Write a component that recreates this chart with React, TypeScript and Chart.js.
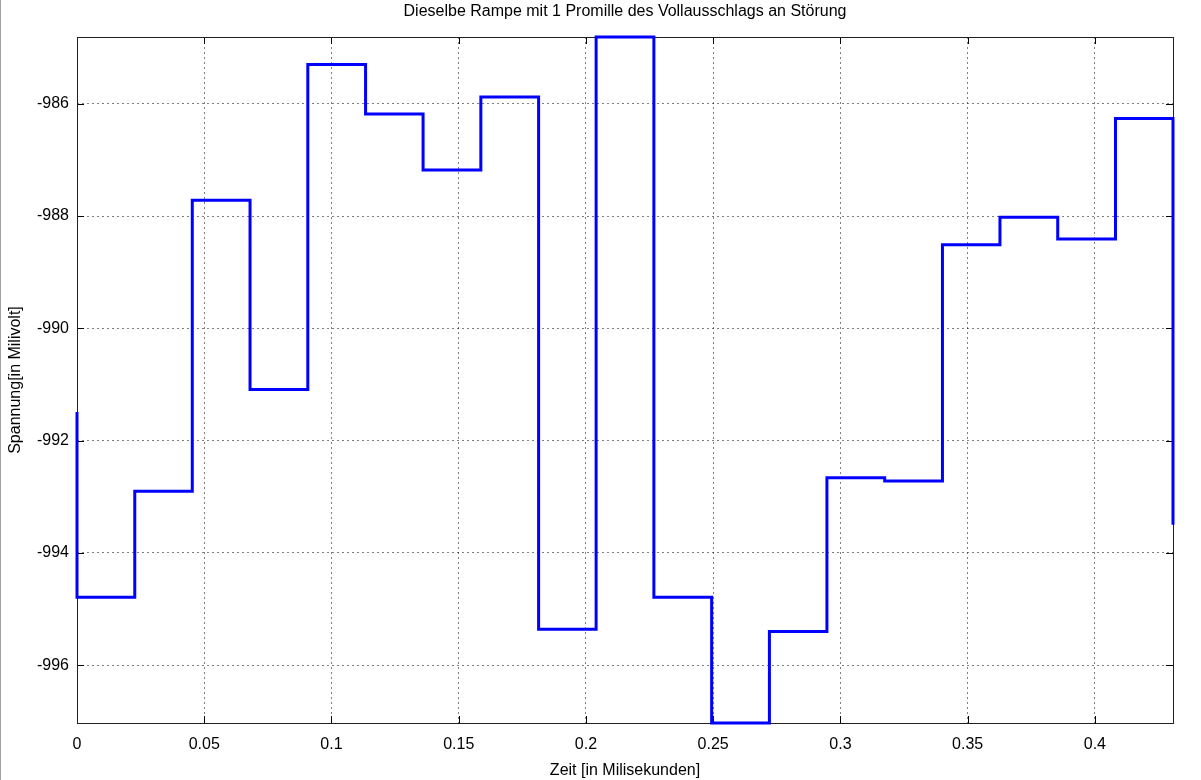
import React, { useEffect, useRef } from 'react';
import { Chart, registerables } from 'chart.js';

Chart.register(...registerables);

const chartTitle = 'Dieselbe Rampe mit 1 Promille des Vollausschlags an Störung';
const xAxisLabel = 'Zeit [in Milisekunden]';
const yAxisLabel = 'Spannung[in Milivolt]';

// step start times (first point is the initial value at t=0, last point the final drop)
const stepTimes = [
  0, 0, 0.0227, 0.0453, 0.068, 0.0907, 0.1134, 0.136, 0.1587, 0.1814, 0.204,
  0.2267, 0.2494, 0.2721, 0.2947, 0.3174, 0.3401, 0.3627, 0.3854, 0.4081, 0.4307,
];
const stepValues = [
  -991.49, -994.79, -992.9, -987.72, -991.09, -985.3, -986.18, -987.18, -985.88, -995.36,
  -984.81, -994.79, -997.03, -995.4, -992.66, -992.72, -988.51, -988.02, -988.41, -986.26,
  -993.5,
];

const xTickValues = [0, 0.05, 0.1, 0.15, 0.2, 0.25, 0.3, 0.35, 0.4];
const yTickValues = [-996, -994, -992, -990, -988, -986];
const xMin = 0;
const xMax = 0.4307;
const yMin = -997.03;
const yMax = -984.81;

const FONT = '"Liberation Sans", Arial, Helvetica, sans-serif';
const FONT_SIZE = 16;

const framePlugin = {
  id: 'frame',
  beforeDatasetsDraw(chart: any) {
    const { ctx, chartArea } = chart;
    const { left, right, top, bottom } = chartArea;
    const xs = chart.scales.x;
    const ys = chart.scales.y;
    ctx.save();
    ctx.strokeStyle = '#000000';
    ctx.lineWidth = 1;
    ctx.setLineDash([]);
    const tl = 7;
    ctx.beginPath();
    xTickValues.forEach((v) => {
      const px = Math.round(xs.getPixelForValue(v)) + 0.5;
      ctx.moveTo(px, bottom);
      ctx.lineTo(px, bottom - tl);
      ctx.moveTo(px, top);
      ctx.lineTo(px, top + tl);
    });
    yTickValues.forEach((v) => {
      const py = Math.round(ys.getPixelForValue(v)) + 0.5;
      ctx.moveTo(left, py);
      ctx.lineTo(left + tl, py);
      ctx.moveTo(right, py);
      ctx.lineTo(right - tl, py);
    });
    ctx.stroke();
    ctx.strokeStyle = '#222222';
    ctx.strokeRect(Math.round(left) + 0.5, Math.round(top) + 0.5, Math.round(right - left), Math.round(bottom - top));
    ctx.restore();
  },
  afterDraw(chart: any) {
    const { ctx, chartArea } = chart;
    ctx.save();
    ctx.fillStyle = '#000000';
    ctx.font = `${FONT_SIZE}px ${FONT}`;
    ctx.textAlign = 'center';
    ctx.textBaseline = 'middle';
    ctx.fillText(chartTitle, (chartArea.left + chartArea.right) / 2, 12);
    ctx.restore();
  },
};

export default function App() {
  const canvasRef = useRef<HTMLCanvasElement | null>(null);

  useEffect(() => {
    document.body.style.margin = '0';
    const canvas = canvasRef.current;
    if (!canvas) return;
    const data = stepTimes.map((t, i) => ({ x: t, y: stepValues[i] }));
    const chart = new Chart(canvas, {
      type: 'line',
      data: {
        datasets: [
          {
            data,
            borderColor: '#0000ff',
            backgroundColor: '#0000ff',
            borderWidth: 3,
            pointRadius: 0,
            stepped: 'before',
            fill: false,
            clip: false as any,
          },
        ],
      },
      options: {
        animation: false,
        responsive: false,
        devicePixelRatio: 1,
        layout: { padding: { left: 0, right: 28, top: 37, bottom: 0 } },
        plugins: {
          legend: { display: false },
          tooltip: { enabled: false },
          title: { display: false },
        },
        scales: {
          x: {
            type: 'linear',
            min: xMin,
            max: xMax,
            afterFit: (s: any) => {
              s.height = 57;
            },
            afterBuildTicks: (s: any) => {
              s.ticks = xTickValues.map((v) => ({ value: v }));
            },
            ticks: {
              color: '#000000',
              font: { family: FONT, size: FONT_SIZE },
              padding: 12,
              maxRotation: 0,
              autoSkip: false,
              callback: (v: any) => String(Number(Number(v).toFixed(3))),
            },
            grid: {
              color: 'rgba(0,0,0,0.5)',
              lineWidth: 1,
              drawTicks: false,
            },
            border: { display: false, dash: [2, 3] },
            title: {
              display: true,
              text: xAxisLabel,
              color: '#000000',
              font: { family: FONT, size: FONT_SIZE },
              padding: { top: 0, bottom: 0 },
            },
          },
          y: {
            type: 'linear',
            min: yMin,
            max: yMax,
            afterFit: (s: any) => {
              s.width = 76;
            },
            afterBuildTicks: (s: any) => {
              s.ticks = yTickValues.map((v) => ({ value: v }));
            },
            ticks: {
              color: '#000000',
              font: { family: FONT, size: FONT_SIZE },
              padding: 8,
              autoSkip: false,
              callback: (v: any) => String(v),
            },
            grid: {
              color: 'rgba(0,0,0,0.5)',
              lineWidth: 1,
              drawTicks: false,
            },
            border: { display: false, dash: [2, 3] },
            title: {
              display: true,
              text: yAxisLabel,
              color: '#000000',
              font: { family: FONT, size: FONT_SIZE },
              padding: { top: 5, bottom: 0 },
            },
          },
        },
      },
      plugins: [framePlugin],
    });
    return () => chart.destroy();
  }, []);

  return (
    <div style={{ width: 1200, height: 780, borderLeft: '1px solid #a0a0a0', background: '#ffffff' }}>
      <canvas ref={canvasRef} width={1200} height={780} style={{ display: 'block' }} />
    </div>
  );
}
